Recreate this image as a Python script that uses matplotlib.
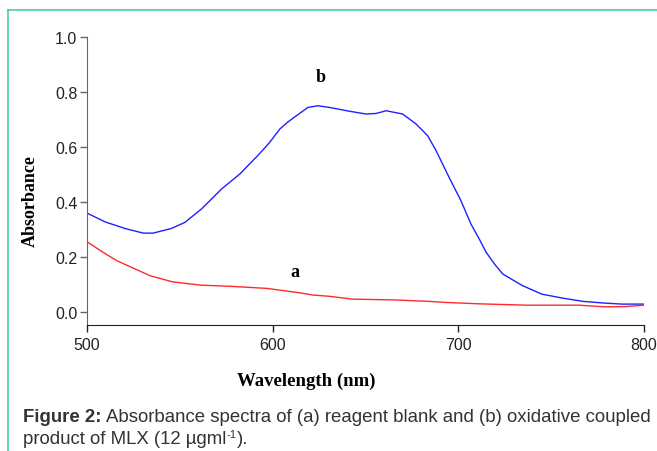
import matplotlib
matplotlib.use("Agg")
import matplotlib.pyplot as plt
from matplotlib.lines import Line2D

# spectrum (b): oxidative coupled product of MLX
wl_b = [500, 509.7, 520.4, 530.3, 535.6, 545.5, 552.7, 561.7, 572.4, 582.3,
        592, 598.4, 603.8, 608, 613, 619, 624.4, 630.6, 641.4, 650.4, 655.7,
        661.1, 670, 677.2, 683.5, 688, 695, 701.4, 706.8, 711.3, 715, 720,
        724, 734.6, 745, 756, 767, 778, 788, 800]
abs_b = [0.360, 0.328, 0.304, 0.287, 0.287, 0.304, 0.326, 0.375, 0.447, 0.502,
         0.569, 0.617, 0.665, 0.690, 0.715, 0.744, 0.750, 0.744, 0.730, 0.720,
         0.722, 0.732, 0.720, 0.684, 0.641, 0.587, 0.490, 0.405, 0.320, 0.265,
         0.217, 0.170, 0.138, 0.096, 0.065, 0.051, 0.039, 0.033, 0.029, 0.029]

# spectrum (a): reagent blank
wl_a = [500, 508, 516, 534, 546, 561, 579, 597, 614.5, 621.6, 631, 643, 666.5,
        684, 693.4, 711, 737, 765, 779, 790, 800]
abs_a = [0.256, 0.220, 0.187, 0.132, 0.110, 0.098, 0.093, 0.086, 0.070, 0.062,
         0.057, 0.047, 0.044, 0.039, 0.035, 0.030, 0.025, 0.025, 0.019, 0.020,
         0.025]

x_ticks = [500, 600, 700, 800]
y_ticks = [0.0, 0.2, 0.4, 0.6, 0.8, 1.0]

W, H = 657, 452
fig = plt.figure(figsize=(W / 100, H / 100), dpi=100)

# teal frame around figure (right/bottom clipped)
teal = "#4cc9ae"
fig.add_artist(Line2D([8 / W, 8 / W], [0, 1 - 11 / H], color=teal, lw=1.2,
                      transform=fig.transFigure))
fig.add_artist(Line2D([8 / W, 1], [1 - 11 / H, 1 - 11 / H], color=teal, lw=1.2,
                      transform=fig.transFigure))

left, right = 87 / W, 644 / W
bottom, top = 1 - 326 / H, 1 - 38 / H
ax = fig.add_axes([left, bottom, right - left, top - bottom])

ax.plot(wl_b, abs_b, color="#2020ff", lw=1.0)
ax.plot(wl_a, abs_a, color="#ff2a2a", lw=1.0)

ax.set_xlim(500, 800)
ax.set_ylim(-0.047, 1.0)
ax.set_xticks(x_ticks)
ax.set_yticks(y_ticks)
ax.set_xticklabels([str(t) for t in x_ticks])
ax.set_yticklabels([f"{t:.1f}" for t in y_ticks])

for s in ["top", "right"]:
    ax.spines[s].set_visible(False)
ax.spines["left"].set_color("#666666")
ax.spines["bottom"].set_color("#222222")
ax.tick_params(axis="y", length=5, width=1, color="#666666", pad=2,
               labelsize=11.5, labelcolor="#222222")
ax.tick_params(axis="x", length=5, width=1, color="#222222", pad=4,
               labelsize=11.5, labelcolor="#222222")
for lbl in ax.get_xticklabels() + ax.get_yticklabels():
    lbl.set_family("Liberation Sans")

serif = dict(family="Liberation Serif", fontweight="bold", color="black")
ax.text(626, 0.855, "b", fontsize=13, ha="center", va="center", **serif)
ax.text(612, 0.148, "a", fontsize=13, ha="center", va="center", **serif)

fig.text(30 / W, 1 - 201 / H, "Absorbance", rotation=90, fontsize=13,
         ha="center", va="center", **serif)
fig.text(306 / W, 1 - 381 / H, "Wavelength (nm)", fontsize=13.5,
         ha="center", va="center", **serif)

# caption, built piece by piece
cap = dict(family="Liberation Sans", color="#333333", va="baseline")
fig.canvas.draw()
r = fig.canvas.get_renderer()


def put(x, y, s, size, **kw):
    t = fig.text(x / W, 1 - y / H, s, fontsize=size, ha="left", **cap, **kw)
    return t.get_window_extent(renderer=r).x1


x = put(23, 422, "Figure 2:", 13.4, fontweight="bold")
put(x + 4, 422, "Absorbance spectra of (a) reagent blank and (b) oxidative coupled", 13.4)
x = put(23, 444, "product of MLX (12 µgml", 13.4)
x = put(x + 0.5, 438, "-1", 8)
put(x + 0.5, 444, ").", 13.4)

fig.savefig("out.png", dpi=100)
